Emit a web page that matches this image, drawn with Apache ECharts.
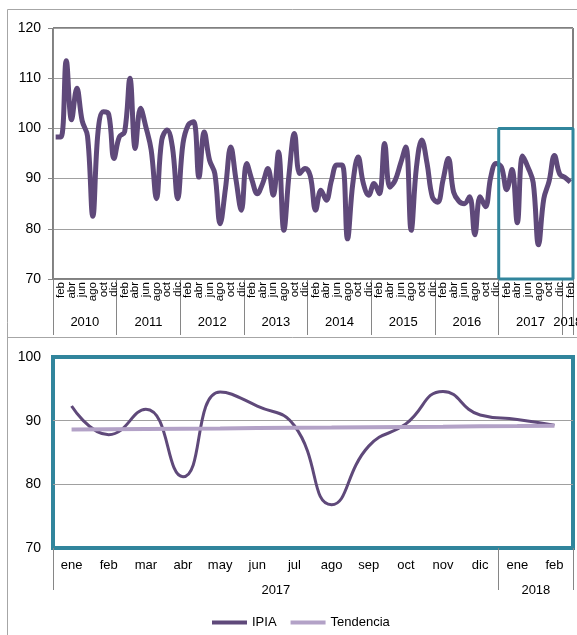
<!DOCTYPE html>
<html>
<head>
<meta charset="utf-8">
<style>
  html, body { margin: 0; padding: 0; background: #fff; }
  #grafico { width: 577px; height: 635px; }
</style>
<script src="https://cdn.jsdelivr.net/npm/echarts@6/dist/echarts.min.js"></script>
</head>
<body>
<div id="grafico"></div>
<script>
// etiquetas
const meses = ['ene', 'feb', 'mar', 'abr', 'may', 'jun', 'jul', 'ago', 'sep', 'oct', 'nov', 'dic']
const anios = ['2010', '2011', '2012', '2013', '2014', '2015', '2016', '2017', '2018']
const meses2017 = ['ene', 'feb', 'mar', 'abr', 'may', 'jun', 'jul', 'ago', 'sep', 'oct', 'nov', 'dic', 'ene', 'feb']
const anios2017 = ['2017', '2018']

// IPIA mensual ene 2010 - feb 2018
const ipiaSerie = [
  98.3, 98.3, 113.5, 101.7, 108.0, 101.5, 98.5, 82.5, 99.5, 103.3, 102.8, 94.0,
  98.3, 99.3, 110.0, 96.0, 104.0, 100.3, 95.7, 86.0, 97.7, 99.7, 96.3, 86.0,
  97.0, 100.7, 101.3, 90.3, 99.3, 93.7, 91.0, 81.0, 88.0, 96.3, 89.7, 83.7,
  93.0, 89.7, 87.0, 89.0, 92.0, 86.7, 95.3, 79.7, 91.0, 99.0, 91.0, 92.0,
  90.5, 83.7, 87.7, 85.7, 89.7, 92.7, 92.7, 78.0, 89.0, 94.3, 89.0, 86.7,
  89.0, 87.0, 97.0, 88.3, 89.7, 93.0, 96.3, 79.7, 92.3, 97.7, 93.0, 86.3,
  85.3, 89.7, 94.0, 87.3, 85.5, 85.0, 86.4, 78.8, 86.4, 84.4, 90.3, 93.0,
  92.3, 87.8, 91.8, 81.2, 94.5, 92.3, 89.2, 76.8, 86.0, 89.5, 94.6, 90.9,
  90.2, 89.3
]

// detalle ene 2017 - feb 2018
const ipia2017 = [92.3, 87.8, 91.8, 81.2, 94.5, 92.3, 89.2, 76.8, 86.0, 89.5, 94.6, 90.9, 90.2, 89.3]
const tendencia2017 = [88.60, 88.65, 88.69, 88.74, 88.78, 88.83, 88.88, 88.92, 88.97, 89.02, 89.06, 89.11, 89.15, 89.20]

// recuadro del detalle, en unidades de los ejes (mes, valor)
const recuadro = [[84, 70], [84, 100], [98, 100], [98, 70], [84, 70]]

const morado = '#5f497a'
const lila = '#b3a2c7'
const turquesa = '#31859c'
const gris = '#868686'

const catTop = []
anios.forEach(a => meses.forEach(m => { if (catTop.length < ipiaSerie.length) catTop.push(a + '-' + m) }))
const catBottom = meses2017.map((m, i) => (i < 12 ? '2017-' : '2018-') + m)

// eje de valores auxiliar (meses contados desde el inicio) para años y separadores
function ejeAux (grid, max, interval, extra) {
  return Object.assign({
    type: 'value',
    gridIndex: grid,
    position: 'bottom',
    min: 0,
    max: max,
    interval: interval,
    axisLine: { show: false },
    axisTick: { show: false },
    splitLine: { show: false },
    axisLabel: { show: false }
  }, extra)
}

const option = {
  animation: false,
  textStyle: { fontFamily: 'Liberation Sans, Arial, sans-serif', color: '#000' },
  graphic: [
    { type: 'rect', silent: true, shape: { x: 7.5, y: 9.5, width: 640, height: 700 }, style: { fill: 'none', stroke: '#a6a6a6', lineWidth: 1 } },
    { type: 'line', silent: true, shape: { x1: 7.5, y1: 337.5, x2: 577, y2: 337.5 }, style: { stroke: '#a6a6a6', lineWidth: 1 } }
  ],
  legend: {
    data: ['IPIA', 'Tendencia'],
    left: 207,
    top: 611,
    icon: 'rect',
    itemWidth: 35,
    itemHeight: 4,
    itemGap: 14,
    textStyle: { fontSize: 13, color: '#000' }
  },
  grid: [
    { left: 53, top: 28, width: 520, height: 251, show: true, borderColor: '#000', borderWidth: 1, outerBoundsMode: 'none' },
    { left: 53, top: 357, width: 520, height: 191, show: true, borderColor: turquesa, borderWidth: 4, outerBoundsMode: 'none' }
  ],
  xAxis: [
    {
      type: 'category',
      gridIndex: 0,
      data: catTop,
      boundaryGap: true,
      axisLine: { lineStyle: { color: gris } },
      axisTick: { show: false },
      axisLabel: {
        interval: 0,
        rotate: 90,
        margin: 3,
        fontSize: 11.5,
        color: '#000',
        // solo los meses pares (feb, abr, ...) llevan rótulo
        formatter: (v, i) => i % 2 === 1 ? v.split('-')[1] : ''
      }
    },
    ejeAux(0, 98, 1, {
      axisLabel: {
        margin: 37,
        fontSize: 13,
        color: '#000',
        formatter: (v) => {
          if (v === 97) return anios[8]
          if (v % 12 === 6 && v < 96) return anios[(v - 6) / 12]
          return ''
        }
      }
    }),
    ejeAux(0, 98, 12, {
      axisTick: { show: true, length: 56, lineStyle: { color: gris } }
    }),
    {
      type: 'category',
      gridIndex: 1,
      data: catBottom,
      boundaryGap: true,
      axisLine: { show: false },
      axisTick: { show: false },
      axisLabel: {
        interval: 0,
        margin: 11,
        fontSize: 13,
        color: '#000',
        formatter: (v) => v.split('-')[1]
      }
    },
    ejeAux(1, 14, 1, {
      axisLabel: {
        margin: 36,
        fontSize: 13,
        color: '#000',
        formatter: (v) => v === 6 ? anios2017[0] : (v === 13 ? anios2017[1] : '')
      }
    }),
    ejeAux(1, 14, 12, {
      axisTick: { show: true, length: 42, lineStyle: { color: gris } }
    })
  ],
  yAxis: [
    {
      type: 'value',
      gridIndex: 0,
      min: 70,
      max: 120,
      interval: 10,
      axisLine: { show: true, lineStyle: { color: gris } },
      axisTick: { show: true, length: 5, lineStyle: { color: gris } },
      axisLabel: { margin: 12, fontSize: 14, color: '#000' },
      splitLine: { lineStyle: { color: '#a0a0a0' } }
    },
    {
      type: 'value',
      gridIndex: 1,
      min: 70,
      max: 100,
      interval: 10,
      axisLine: { show: false },
      axisTick: { show: false },
      axisLabel: { margin: 12, fontSize: 14, color: '#000' },
      splitLine: { showMinLine: false, showMaxLine: false, lineStyle: { color: '#a0a0a0' } }
    }
  ],
  series: [
    {
      name: 'IPIA mensual',
      type: 'line',
      xAxisIndex: 0,
      yAxisIndex: 0,
      data: ipiaSerie,
      smooth: 0.4,
      showSymbol: false,
      lineStyle: { color: morado, width: 5 },
      itemStyle: { color: morado }
    },
    {
      name: 'recuadro',
      type: 'line',
      xAxisIndex: 1,
      yAxisIndex: 0,
      data: recuadro,
      clip: false,
      silent: true,
      showSymbol: false,
      lineStyle: { color: turquesa, width: 3 },
      z: 3
    },
    {
      name: 'IPIA',
      type: 'line',
      xAxisIndex: 3,
      yAxisIndex: 1,
      data: ipia2017,
      smooth: 0.5,
      showSymbol: false,
      lineStyle: { color: morado, width: 3 },
      itemStyle: { color: morado }
    },
    {
      name: 'Tendencia',
      type: 'line',
      xAxisIndex: 3,
      yAxisIndex: 1,
      data: tendencia2017,
      showSymbol: false,
      lineStyle: { color: lila, width: 4 },
      itemStyle: { color: lila }
    }
  ]
}

const chart = echarts.init(document.getElementById('grafico'))
chart.setOption(option)
window.addEventListener('resize', () => chart.resize())
</script>
</body>
</html>
